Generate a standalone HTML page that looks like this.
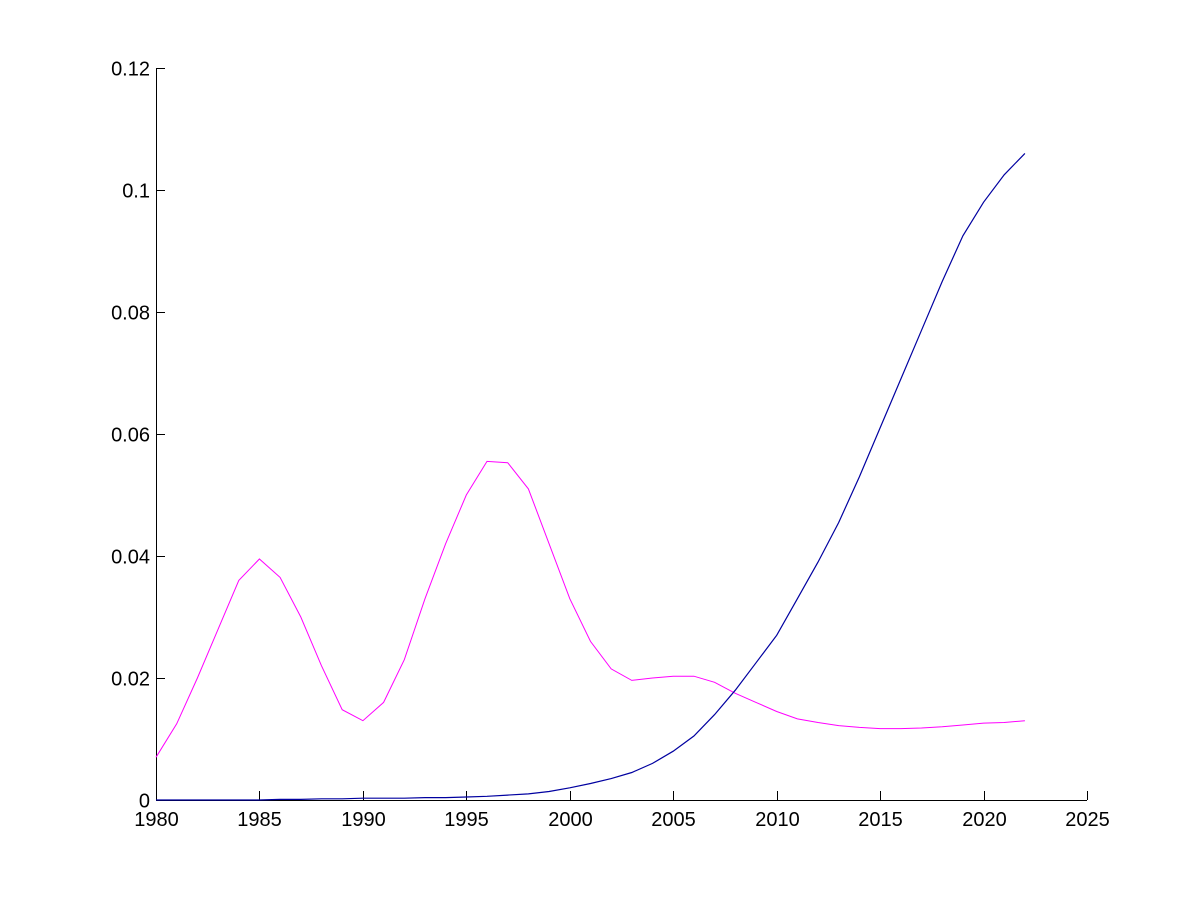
<!DOCTYPE html>
<html><head><meta charset="utf-8"><style>
html,body{margin:0;padding:0;background:#fff;width:1200px;height:900px;overflow:hidden}
text{font-family:"Liberation Sans",Arial,sans-serif;font-size:20px;fill:#000}
</style></head><body>
<svg id="s" width="1200" height="900" xmlns="http://www.w3.org/2000/svg">
<rect width="1200" height="900" fill="#fff"/>
<g id="ax" stroke="#000" stroke-width="1" fill="none">
<line x1="156.5" y1="68" x2="156.5" y2="800.5"/>
<line x1="156" y1="800.5" x2="1087" y2="800.5"/>
</g>
<g id="lbl"></g>
<polyline id="m" fill="none" stroke="#ff00ff" stroke-width="1"/>
<polyline id="b" fill="none" stroke="#0000a0" stroke-width="1.2"/>
</svg>
<script>
var X=function(t){return 156+(t-1980)*(931/45)},Y=function(v){return 800-v*6100};
var ax=document.getElementById('ax'),lb=document.getElementById('lbl'),ns='http://www.w3.org/2000/svg';
function el(p,n,a,t){var e=document.createElementNS(ns,n);for(var k in a)e.setAttribute(k,a[k]);if(t!=null)e.textContent=t;p.appendChild(e);}
for(var t=1980;t<=2025;t+=5){var x=Math.round(X(t))+0.5;el(ax,'line',{x1:x,y1:800,x2:x,y2:791});el(lb,'text',{x:x,y:826,'text-anchor':'middle'},t);}
var yl=['0','0.02','0.04','0.06','0.08','0.1','0.12'];
for(var i=0;i<=6;i++){var y=Math.round(Y(i*0.02))+0.5;el(ax,'line',{x1:156,y1:y,x2:165,y2:y});el(lb,'text',{x:150,y:y+7,'text-anchor':'end'},yl[i]);}
var m=[0.007,0.0125,0.020,0.028,0.036,0.0395,0.0365,0.030,0.022,0.0148,0.013,0.016,0.023,0.033,0.042,0.050,0.0555,0.0553,0.051,0.042,0.033,0.026,0.0215,0.0196,0.0200,0.0203,0.0203,0.0193,0.0175,0.016,0.0145,0.0133,0.0127,0.0122,0.0119,0.0117,0.0117,0.0118,0.012,0.0123,0.0126,0.0127,0.013];
var b=[0,0,0,0,0,0,0.0001,0.0001,0.0002,0.0002,0.0003,0.0003,0.0003,0.0004,0.0004,0.0005,0.0006,0.0008,0.001,0.0014,0.002,0.0027,0.0035,0.0045,0.006,0.008,0.0105,0.014,0.018,0.0225,0.027,0.033,0.039,0.0455,0.053,0.061,0.069,0.077,0.085,0.0925,0.098,0.1025,0.106];
function pts(a){return a.map(function(v,i){return X(1980+i).toFixed(1)+','+Y(v).toFixed(1)}).join(' ')}
document.getElementById('m').setAttribute('points',pts(m));
document.getElementById('b').setAttribute('points',pts(b));
</script>
</body></html>
